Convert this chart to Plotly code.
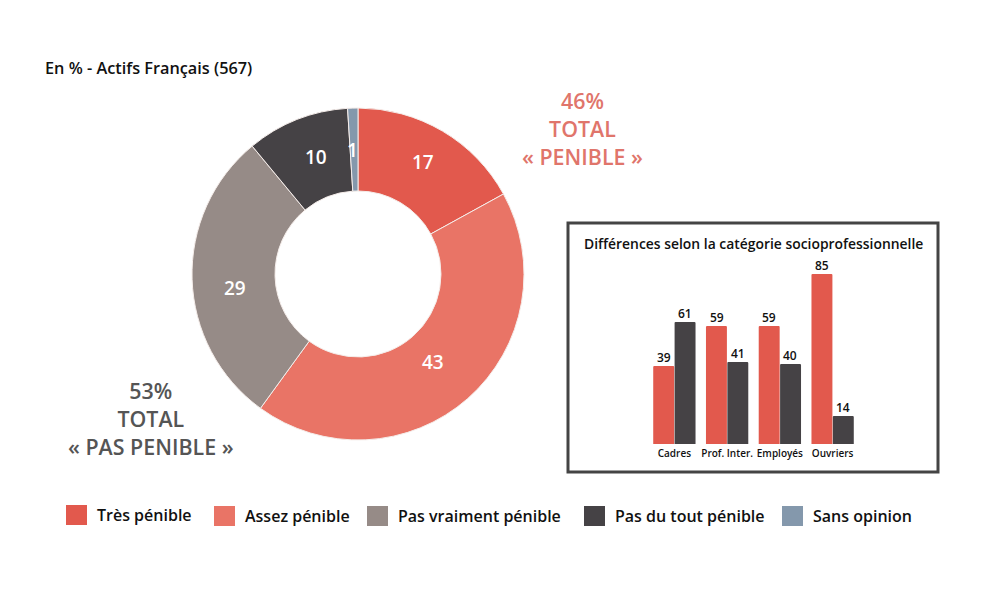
import math
import plotly.graph_objects as go

W, H = 1000, 600

# Data
pie_labels = ["Très pénible", "Assez pénible", "Pas vraiment pénible", "Pas du tout pénible", "Sans opinion"]
pie_values = [17, 43, 29, 10, 1]
pie_colors = ["#E2594D", "#E97466", "#968B87", "#454245", "#8498AC"]

categories = ["Cadres", "Prof. Inter.", "Employés", "Ouvriers"]
penible = [39, 59, 59, 85]
pas_penible = [61, 41, 40, 14]

title_text = "En % - Actifs Français (567)"
inset_title = "Différences selon la catégorie socioprofessionnelle"
total_1 = "46%<br>TOTAL<br>« PENIBLE »"
total_2 = "53%<br>TOTAL<br>« PAS PENIBLE »"

FONT = "Open Sans"
px = lambda x: x / W
py = lambda y: 1 - y / H

fig = go.Figure()

fig.add_trace(go.Pie(
    labels=pie_labels, values=pie_values, sort=False, direction="clockwise", rotation=0,
    hole=0.5, marker=dict(colors=pie_colors, line=dict(color="#F5EDEA", width=1)),
    textinfo="none",
    domain=dict(x=[px(192), px(524)], y=[py(440), py(108)]),
    showlegend=False, hoverinfo="label+value",
))

for name, vals, col in [("Pénible", penible, "#E2594D"), ("Pas pénible", pas_penible, "#454245")]:
    fig.add_trace(go.Bar(
        x=categories, y=vals, name=name, marker=dict(color=col, cornerradius=1, line=dict(width=0)),
        xaxis="x", yaxis="y", showlegend=False,
    ))

fig.update_layout(
    width=W, height=H, autosize=False,
    margin=dict(l=0, r=0, t=0, b=0, autoexpand=False),
    paper_bgcolor="white", plot_bgcolor="rgba(0,0,0,0)",
    barmode="group", bargap=0.19, bargroupgap=0.02,
    xaxis=dict(domain=[px(648), px(859)], anchor="y", showgrid=False, showline=False, zeroline=False,
               ticks="", ticklen=0, ticklabelstandoff=2, tickangle=0, automargin=False,
               tickfont=dict(family=FONT, size=10, color="#111111", weight=600)),
    yaxis=dict(domain=[py(444), py(244)], range=[0, 100], visible=False, showgrid=False),
    showlegend=False,
)

fig.add_shape(type="rect", xref="paper", yref="paper", x0=px(568), x1=px(938), y0=py(472), y1=py(223),
              line=dict(color="#444444", width=3), fillcolor="rgba(0,0,0,0)", layer="below")

def note(x, y, text, size, color, anchor="center", weight=600):
    fig.add_annotation(xref="paper", yref="paper", x=px(x), y=py(y), text=text, showarrow=False,
                       xanchor=anchor, yanchor="middle", align="center",
                       font=dict(family=FONT, size=size, color=color, weight=weight))

# Slice values, placed around each slice's mid-angle with the reference's small nudges
cx, cy, r_lab = 358, 274, 124
label_nudge = [(2, -5), (-7, -5), (1, 10), (4, -2), (-2, 0)]
cum = 0
total = sum(pie_values)
for v, (dx, dy) in zip(pie_values, label_nudge):
    a = 2 * math.pi * (cum + v / 2) / total
    note(cx + r_lab * math.sin(a) + dx, cy - r_lab * math.cos(a) + dy, str(v), 19, "white")
    cum += v

# Bar values, attached to the bars through the data axes
for vals, shift in [(penible, -10.5), (pas_penible, 10.5)]:
    for c, v in zip(categories, vals):
        fig.add_annotation(xref="x", yref="y", x=c, y=v, text=str(v), showarrow=False,
                           xanchor="center", yanchor="middle", xshift=shift, yshift=9,
                           font=dict(family=FONT, size=12, color="#111111", weight=600))

note(43, 68, title_text, 16.3, "#111111", "left")
note(753, 243, inset_title, 13.9, "#111111")
note(582, 129, total_1, 21.4, "#E0756B")
note(151, 418, total_2, 21.4, "#555555")

leg_x = [66, 214, 367, 584, 782]
leg_y = [515, 516, 516, 516, 516]
for x, y, lab, col in zip(leg_x, leg_y, pie_labels, pie_colors):
    fig.add_shape(type="rect", xref="paper", yref="paper", x0=px(x), x1=px(x + 21), y0=py(y + 10), y1=py(y - 10),
                  fillcolor=col, line=dict(width=0))
    note(x + 29, y, lab, 16, "#111111", "left")

fig.write_html("out.html", config=dict(displayModeBar=False), post_script="document.body.style.margin='0';")
